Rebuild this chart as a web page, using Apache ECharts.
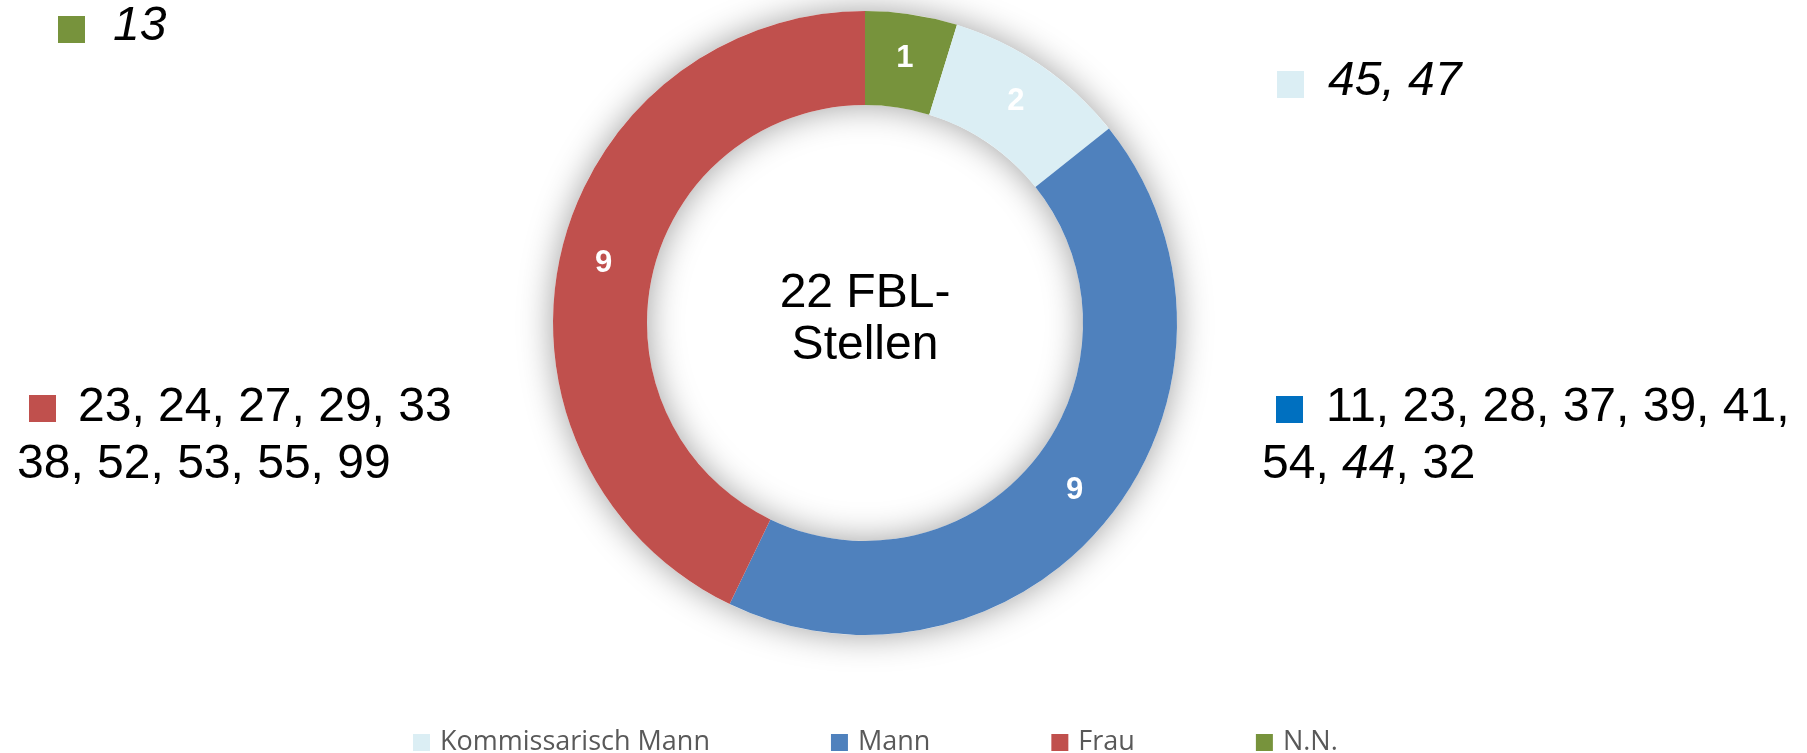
<!DOCTYPE html>
<html>
<head>
<meta charset="utf-8">
<script src="https://cdn.jsdelivr.net/npm/echarts@6/dist/echarts.min.js"></script>
<style>
  html, body { margin: 0; padding: 0; background: #fff; }
  #chart { width: 1807px; height: 753px; }
</style>
</head>
<body>
<div id="chart"></div>
<script>
// Reihenfolge im Ring (im Uhrzeigersinn ab 12 Uhr)
const categories = ['N.N.', 'Kommissarisch Mann', 'Mann', 'Frau'];
const values = [1, 2, 9, 9];
const colors = ['#77933C', '#DBEEF4', '#4F81BD', '#C0504D'];
const legendOrder = ['Kommissarisch Mann', 'Mann', 'Frau', 'N.N.'];

const centerText = '22 FBL-\nStellen';

// Nummern neben dem Ring ({i|..} = kursiv)
const nnNums = ['{i|13}'];
const kommNums = ['{i|45, 47}'];
const frauNums = ['23, 24, 27, 29, 33', '38, 52, 53, 55, 99'];
const mannNums = ['11, 23, 28, 37, 39, 41,', '54, {i|44}, 32'];

const total = values.reduce((a, b) => a + b, 0);
const font = '"Liberation Sans", Arial, sans-serif';
const rich = { i: { fontStyle: 'italic', fontSize: 48, fontFamily: font, fill: '#000' } };

function note(x, y, text) {
  return {
    type: 'text', x: x, y: y,
    style: {
      text: text, fontSize: 48, fontFamily: font, fill: '#000',
      verticalAlign: 'middle', rich: rich
    }
  };
}
function square(x, y, color) {
  return { type: 'rect', shape: { x: x, y: y, width: 27, height: 27 }, style: { fill: color } };
}

const chart = echarts.init(document.getElementById('chart'));

chart.setOption({
  animation: false,
  color: colors,
  legend: {
    data: legendOrder,
    left: 408,
    top: 724,
    icon: 'rect',
    itemWidth: 17,
    itemHeight: 17,
    itemGap: 121,
    textStyle: { fontSize: 27, color: '#595959', fontFamily: '"Open Sans", sans-serif', padding: [0, 0, 0, 5] }
  },
  graphic: [
    {
      type: 'text', x: 865, y: 320,
      style: {
        text: centerText, fontSize: 48, fontFamily: font, fill: '#000',
        align: 'center', verticalAlign: 'middle', lineHeight: 52
      }
    },
    square(58, 16, '#77933C'), note(113, 27, nnNums[0]),
    square(1277, 71, '#DBEEF4'), note(1328, 82, kommNums[0]),
    square(29, 395, '#C0504D'), note(78, 408, frauNums[0]), note(17, 465, frauNums[1]),
    square(1276, 396, '#0070C0'), note(1326, 408, mannNums[0]), note(1262, 465, mannNums[1])
  ],
  series: [
    {
      // Schattenring hinter dem Diagramm
      type: 'pie',
      silent: true,
      center: [865, 323],
      radius: [218, 312],
      label: { show: false },
      itemStyle: { color: '#fff', shadowBlur: 34, shadowColor: 'rgba(0,0,0,0.38)' },
      data: [{ name: 'ring', value: total }],
      z: 1
    },
    {
      type: 'pie',
      center: [865, 323],
      radius: [218, 312],
      startAngle: 90,
      clockwise: true,
      avoidLabelOverlap: false,
      label: {
        show: true,
        position: 'inside',
        formatter: '{c}',
        color: '#fff',
        fontSize: 31,
        fontWeight: 'bold',
        fontFamily: font
      },
      labelLine: { show: false },
      emphasis: { disabled: true },
      data: categories.map((c, i) => ({ name: c, value: values[i] })),
      z: 2
    }
  ]
});
</script>
</body>
</html>
